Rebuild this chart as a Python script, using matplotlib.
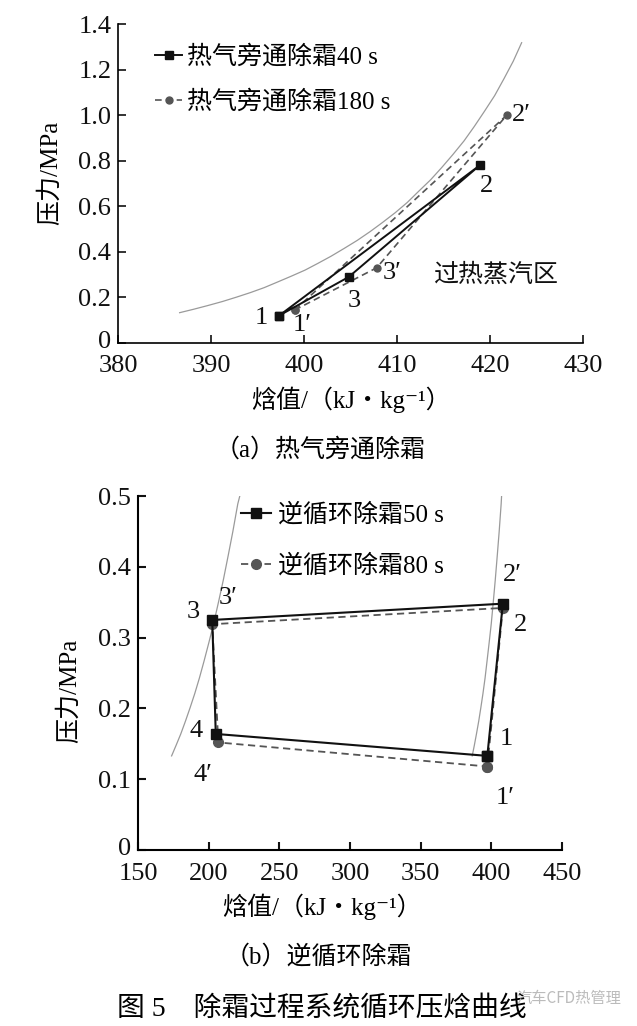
import numpy as np
import matplotlib
matplotlib.use('Agg')
import matplotlib.pyplot as plt
import matplotlib.transforms as mtransforms

# Fonts: Times-like for digits, CJK fallback for Chinese:
plt.rcParams['font.family'] = ['Liberation Serif', 'Noto Sans CJK SC', 'DejaVu Sans']
plt.rcParams['axes.unicode_minus'] = False

### Data (a) hot gas bypass defrost, states 1, 2, 3:
hot_gas_40s_h = [397.3, 418.9, 404.8]
hot_gas_40s_p = [0.12, 0.78, 0.29]
hot_gas_40s_names = ['1', '2', '3']
hot_gas_180s_h = [399.0, 421.8, 407.8]
hot_gas_180s_p = [0.145, 1.00, 0.33]
hot_gas_180s_names = ['1′', '2′', '3′']

# Saturated vapour line drawn in (a):
sat_vap_h_a = [386.6, 388.1, 389.6, 391.2, 392.7, 394.2, 395.7, 397.1, 398.6,
               400.1, 401.5, 402.9, 404.3, 405.7, 407.1, 408.4, 409.8, 411.1,
               412.3, 413.6, 414.8, 416.0, 417.2, 418.3, 419.4, 420.5, 421.5,
               422.5, 423.4]
sat_vap_p_a = [0.133, 0.148, 0.164, 0.182, 0.201, 0.221, 0.243, 0.267, 0.293,
               0.320, 0.350, 0.381, 0.415, 0.450, 0.489, 0.528, 0.572, 0.617,
               0.665, 0.716, 0.770, 0.827, 0.887, 0.950, 1.017, 1.086, 1.160,
               1.237, 1.318]

### Data (b) reverse cycle defrost, states 1, 2, 3, 4:
reverse_50s_h = [397.3, 408.3, 202.4, 204.9]
reverse_50s_p = [0.133, 0.348, 0.325, 0.164]
reverse_50s_names = ['1', '2', '3', '4']
reverse_80s_h = [397.3, 408.3, 202.4, 206.7]
reverse_80s_p = [0.118, 0.342, 0.319, 0.152]
reverse_80s_names = ['1′', '2′', '3′', '4′']

# Saturation lines drawn in (b):
sat_liq_h_b = [173.6, 176.8, 180.1, 183.4, 186.7, 190.0, 193.3, 196.6, 200.0,
               203.4, 206.8, 210.2, 213.6, 217.0, 220.5, 221.9]
sat_liq_p_b = [0.133, 0.148, 0.164, 0.182, 0.201, 0.221, 0.243, 0.267, 0.293,
               0.320, 0.350, 0.381, 0.415, 0.450, 0.489, 0.500]
sat_vap_h_b = [386.6, 388.1, 389.6, 391.2, 392.7, 394.2, 395.7, 397.1, 398.6,
               400.1, 401.5, 402.9, 404.3, 405.7, 407.1, 407.4]
sat_vap_p_b = [0.133, 0.148, 0.164, 0.182, 0.201, 0.221, 0.243, 0.267, 0.293,
               0.320, 0.350, 0.381, 0.415, 0.450, 0.489, 0.500]

# Ticks:
xticks_a = [380, 390, 400, 410, 420, 430]
yticks_a = [0, 0.2, 0.4, 0.6, 0.8, 1.0, 1.2, 1.4]
ylabels_a = ['0', '0.2', '0.4', '0.6', '0.8', '1.0', '1.2', '1.4']
xticks_b = [150, 200, 250, 300, 350, 400, 450]
yticks_b = [0, 0.1, 0.2, 0.3, 0.4, 0.5]
ylabels_b = ['0', '0.1', '0.2', '0.3', '0.4', '0.5']

# Label offsets (points) for the state numbers:
offsets_40s = [(-12.5, -1.9), (4.8, -14.6), (3.6, -17.6)]
offsets_180s = [(5.3, -10.8), (10.8, 0), (10.8, -3.6)]
offsets_50s = [(13.5, 11.8), (12.5, -15.6), (-13.7, 6.0), (-14.2, 2.2)]
offsets_80s = [(13.2, -22.8), (7.0, 23.5), (11.5, 18.7), (-10.8, -23.3)]

BLACK = '#111111'
GREY = '#555555'
SAT = '#9a9a9a'
DASH = (0, (4, 2.5))
XLABEL = '焓值/（kJ・kg⁻¹）'


def closed(vals):
    # Close the cycle back to the first state:
    return list(vals) + [vals[0]]


def style_axis(ax, fig, xticks, yticks, ylabels, spine_w):
    ax.spines['top'].set_visible(False)
    ax.spines['right'].set_visible(False)
    ax.spines['left'].set_linewidth(spine_w)
    ax.spines['bottom'].set_linewidth(spine_w)
    ax.set_xticks(xticks)
    ax.set_yticks(yticks, ylabels)
    ax.tick_params(axis='both', direction='in', length=6, width=spine_w,
                   labelsize=19, colors='#111111')
    ax.tick_params(axis='x', pad=9)
    ax.tick_params(axis='y', pad=5)
    # Lift the "0" label a touch so it clears the first x label:
    lift = mtransforms.ScaledTranslation(0, 2.5 / 72, fig.dpi_scale_trans)
    zero = ax.yaxis.get_major_ticks()[0].label1
    zero.set_transform(zero.get_transform() + lift)


def label_points(ax, hs, ps, names, offsets):
    for h, p, n, off in zip(hs, ps, names, offsets):
        ax.annotate(n, (h, p), xytext=off, textcoords='offset points',
                    ha='center', va='center', fontsize=19, color='#111111')


fig = plt.figure(figsize=(6.37, 10.26), dpi=100)

### Panel (a):
ax1 = fig.add_axes([0.1857, 0.6657, 0.7295, 0.3109])
ax1.plot(sat_vap_h_a, sat_vap_p_a, color=SAT, lw=0.9)
l180, = ax1.plot(closed(hot_gas_180s_h), closed(hot_gas_180s_p), linestyle=DASH,
                 color=GREY, lw=1.2, marker='o', ms=5, mfc=GREY, mec=GREY,
                 label='热气旁通除霜180 s')
l40, = ax1.plot(closed(hot_gas_40s_h), closed(hot_gas_40s_p), color=BLACK, lw=1.4,
                marker='s', ms=5.5, mfc=BLACK, mec=BLACK, label='热气旁通除霜40 s')
label_points(ax1, hot_gas_40s_h, hot_gas_40s_p, hot_gas_40s_names, offsets_40s)
label_points(ax1, hot_gas_180s_h, hot_gas_180s_p, hot_gas_180s_names, offsets_180s)
ax1.text(413.9, 0.30, '过热蒸汽区', fontsize=18, va='center', ha='left', color='#111111')
ax1.set_xlim(380, 430)
ax1.set_ylim(0, 1.4)
style_axis(ax1, fig, xticks_a, yticks_a, ylabels_a, 1.2)
ax1.legend(handles=[l40, l180], loc='upper left', bbox_to_anchor=(0.2433, 0.956),
           bbox_transform=fig.transFigure, frameon=False, fontsize=18,
           handlelength=1.1, handletextpad=0.2, borderpad=0, borderaxespad=0,
           labelspacing=0.85)

### Panel (b):
ax2 = fig.add_axes([0.2171, 0.1715, 0.6647, 0.345])
ax2.plot(sat_liq_h_b, sat_liq_p_b, color=SAT, lw=0.9)
ax2.plot(sat_vap_h_b, sat_vap_p_b, color=SAT, lw=0.9)
l80, = ax2.plot(closed(reverse_80s_h), closed(reverse_80s_p), linestyle=DASH,
                color=GREY, lw=1.3, marker='o', ms=7, mfc=GREY, mec=GREY,
                label='逆循环除霜80 s')
l50, = ax2.plot(closed(reverse_50s_h), closed(reverse_50s_p), color=BLACK, lw=1.5,
                marker='s', ms=7, mfc=BLACK, mec=BLACK, label='逆循环除霜50 s')
label_points(ax2, reverse_50s_h, reverse_50s_p, reverse_50s_names, offsets_50s)
label_points(ax2, reverse_80s_h, reverse_80s_p, reverse_80s_names, offsets_80s)
ax2.set_xlim(150, 450)
ax2.set_ylim(0, 0.5)
style_axis(ax2, fig, xticks_b, yticks_b, ylabels_b, 1.5)
ax2.legend(handles=[l50, l80], loc='upper left', bbox_to_anchor=(0.379, 0.5098),
           bbox_transform=fig.transFigure, frameon=False, fontsize=18,
           handlelength=1.2, handletextpad=0.25, borderpad=0, borderaxespad=0,
           labelspacing=1.1)

### Axis labels and captions:
fig.text(0.0785, 0.8314, '压力/MPa', rotation=90, ha='center', va='center', fontsize=18)
fig.text(0.551, 0.6101, XLABEL, ha='center', va='center', fontsize=18)
fig.text(0.502, 0.5614, '（a）热气旁通除霜', ha='center', va='center', fontsize=18)
fig.text(0.108, 0.3265, '压力/MPa', rotation=90, ha='center', va='center', fontsize=18)
fig.text(0.5055, 0.116, XLABEL, ha='center', va='center', fontsize=18)
fig.text(0.500, 0.0675, '（b）逆循环除霜', ha='center', va='center', fontsize=18)
fig.text(0.505, 0.0156, '图 5    除霜过程系统循环压焓曲线', ha='center', va='center', fontsize=20)
fig.text(0.81, 0.027, '汽车CFD热管理', ha='left', va='center', fontsize=11,
         color='#bbbbbb', family=['Noto Sans CJK SC', 'DejaVu Sans'])

fig.savefig('out.png', dpi=100)
